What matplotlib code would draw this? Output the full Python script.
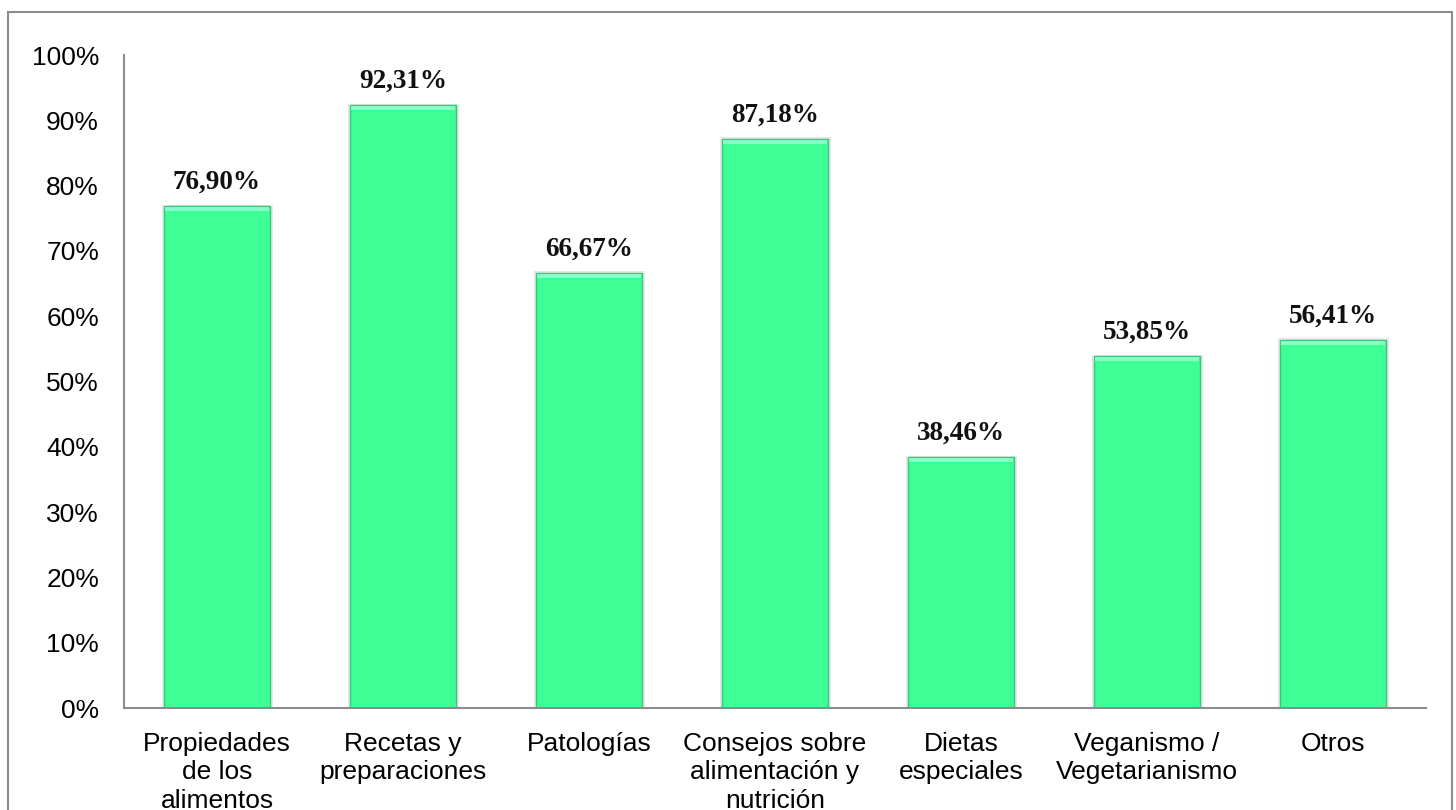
import matplotlib.pyplot as plt
from matplotlib.patches import Rectangle
from matplotlib.ticker import FuncFormatter

categorias = ["Propiedades\nde los\nalimentos", "Recetas y\npreparaciones", "Patologías",
              "Consejos sobre\nalimentación y\nnutrición", "Dietas\nespeciales",
              "Veganismo /\nVegetarianismo", "Otros"]
valores = [76.90, 92.31, 66.67, 87.18, 38.46, 53.85, 56.41]
etiquetas = ["76,90%", "92,31%", "66,67%", "87,18%", "38,46%", "53,85%", "56,41%"]

W, H = 1456, 810
fig = plt.figure(figsize=(W / 100, H / 100), dpi=100)
fig.patch.set_facecolor("white")

# marco gris alrededor del grafico
fig.patches.append(Rectangle((8 / W, -0.01), (1452 - 8) / W, 1.01 - 12 / H,
                             transform=fig.transFigure, fill=False,
                             edgecolor="#8c8c8c", linewidth=1.5))

ax = fig.add_axes([124 / W, 1 - 708 / H, (1426 - 124) / W, (708 - 55) / H])

x = list(range(len(valores)))
ancho = 0.575

# sombra suave de las barras
for xi, v in zip(x, valores):
    ax.add_patch(Rectangle((xi - ancho / 2 - 0.008, 0), ancho + 0.02, v + 0.2,
                           facecolor="#a0a0a0", alpha=0.25, edgecolor="none", zorder=1))

ax.bar(x, valores, width=ancho, color="#3dff96", edgecolor="#34c97c",
       linewidth=1.0, zorder=2)

# bisel claro en la parte superior
for xi, v in zip(x, valores):
    ax.add_patch(Rectangle((xi - ancho / 2 + 0.006, v - 0.75), ancho - 0.012, 0.6,
                           facecolor="#86ffc6", edgecolor="none", zorder=3))

for xi, v, t in zip(x, valores, etiquetas):
    ax.annotate(t, (xi, v), xytext=(0, 12.5), textcoords="offset points",
                ha="center", va="baseline", fontsize=19.5, fontweight="bold",
                family="Liberation Serif", color="#111111")

ax.set_xlim(-0.5, len(valores) - 0.5)
ax.set_ylim(0, 100)
ax.set_yticks(range(0, 101, 10))
ax.yaxis.set_major_formatter(FuncFormatter(lambda v, p: f"{int(v)}%"))
ax.set_xticks(x)
ax.set_xticklabels(categorias, fontsize=19, family="Liberation Sans",
                   linespacing=1.25)
ax.tick_params(axis="y", labelsize=19, length=0, pad=18)
ax.tick_params(axis="x", length=0, pad=17)
for lab in ax.get_yticklabels():
    lab.set_family("Liberation Sans")

for s in ["top", "right"]:
    ax.spines[s].set_visible(False)
for s in ["left", "bottom"]:
    ax.spines[s].set_color("#8c8c8c")
    ax.spines[s].set_linewidth(1.5)

fig.savefig("out.png", dpi=100)
